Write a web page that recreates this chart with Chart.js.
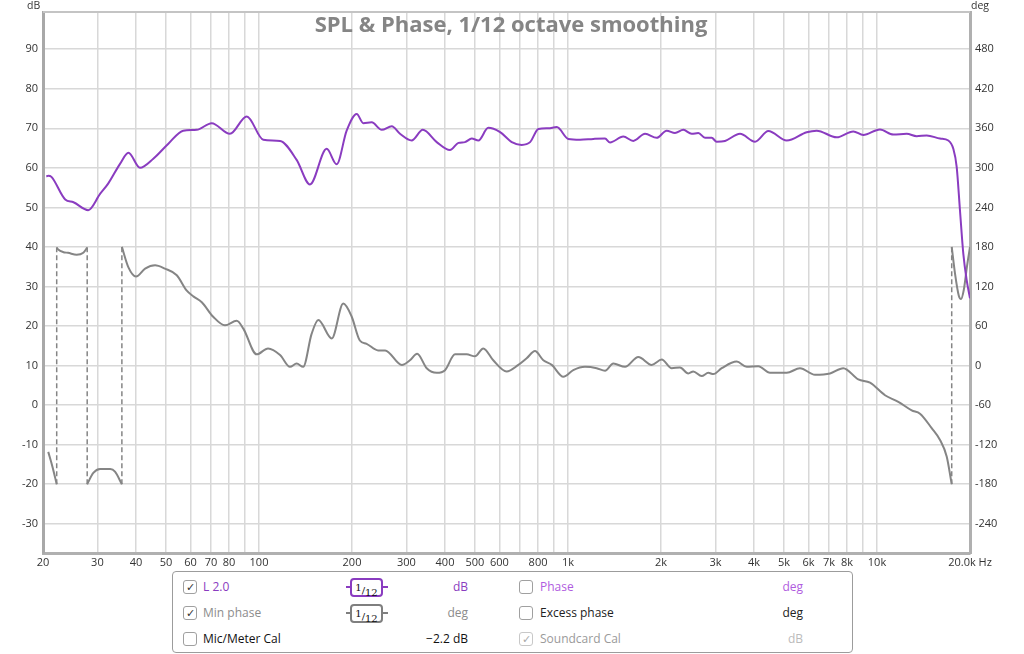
<!DOCTYPE html>
<html><head><meta charset="utf-8">
<script src="https://cdn.jsdelivr.net/npm/chart.js@4.4.1/dist/chart.umd.min.js"></script>
<style>
html,body{margin:0;padding:0;background:#fff;}
#wrap{position:relative;width:1024px;height:654px;overflow:hidden;font-family:"Open Sans",sans-serif;}
#c{position:absolute;left:0;top:0;}
.t{position:absolute;white-space:nowrap;line-height:14px;}
#title{position:absolute;left:511px;top:10px;transform:translateX(-50%);font-weight:bold;font-size:22px;line-height:26px;color:#858585;white-space:nowrap;}
#panel{position:absolute;left:172px;top:571px;width:679px;height:80px;border:1px solid #9c9c9c;border-radius:4px;background:#fff;font-size:12px;}
.cb{position:absolute;width:12px;height:12px;border:1px solid #a0a0a0;border-radius:3px;background:#fff;font-size:11px;line-height:12px;text-align:center;color:#333;}
.lb{position:absolute;white-space:nowrap;line-height:16px;}
.un{position:absolute;white-space:nowrap;line-height:16px;text-align:right;width:80px;}
.fr{position:absolute;width:29px;height:15px;border:2px solid #8a3cc0;border-radius:4px;font-family:"DejaVu Serif",serif;font-size:10px;line-height:15px;text-align:center;color:#111;}
.fr sup{font-size:10px;vertical-align:3px;}
.fr sub{font-size:10px;vertical-align:-2px;}
.tk{position:absolute;height:2px;width:5px;}
</style></head><body>
<div id="wrap">
<canvas id="c" width="1024" height="654"></canvas>
<div id="title">SPL &amp; Phase, 1/12 octave smoothing</div>
<div class="t" style="left:27px;top:-2px;font-size:10.5px;color:#333">dB</div>
<div class="t" style="left:971px;top:-2px;font-size:10.5px;color:#333">deg</div>
<div id="panel">
  <div class="cb" style="left:10px;top:8px">✓</div>
  <div class="lb" style="left:30px;top:7px;color:#8a3cc0">L 2.0</div>
  <div class="tk" style="left:173px;top:14px;background:#8a3cc0"></div>
  <div class="fr" style="left:177px;top:6px"><sup>1</sup>/<sub>12</sub></div>
  <div class="tk" style="left:210px;top:14px;background:#8a3cc0"></div>
  <div class="un" style="left:215px;top:7px;color:#8a3cc0">dB</div>
  <div class="cb" style="left:346px;top:8px"></div>
  <div class="lb" style="left:367px;top:7px;color:#b05ce0">Phase</div>
  <div class="un" style="left:550px;top:7px;color:#b05ce0">deg</div>

  <div class="cb" style="left:10px;top:34px">✓</div>
  <div class="lb" style="left:30px;top:33px;color:#8c8c8c">Min phase</div>
  <div class="tk" style="left:173px;top:40px;background:#7f7f7f"></div>
  <div class="fr" style="left:177px;top:32px;border-color:#7f7f7f"><sup>1</sup>/<sub>12</sub></div>
  <div class="tk" style="left:210px;top:40px;background:#7f7f7f"></div>
  <div class="un" style="left:215px;top:33px;color:#8c8c8c">deg</div>
  <div class="cb" style="left:346px;top:34px"></div>
  <div class="lb" style="left:367px;top:33px;color:#222">Excess phase</div>
  <div class="un" style="left:550px;top:33px;color:#222">deg</div>

  <div class="cb" style="left:10px;top:60px"></div>
  <div class="lb" style="left:30px;top:59px;color:#111">Mic/Meter Cal</div>
  <div class="un" style="left:215px;top:59px;color:#111">−2.2 dB</div>
  <div class="cb" style="left:346px;top:60px;border-color:#c8c8c8;color:#aaa">✓</div>
  <div class="lb" style="left:367px;top:59px;color:#9a9a9a">Soundcard Cal</div>
  <div class="un" style="left:550px;top:59px;color:#bbb">dB</div>
</div>
</div>
<script>
// ---- data ----
const splFreq = [20.5,20.8,21.3,23.6,25.1,28.0,30.6,32.5,35.5,37.8,41.2,45.5,50.9,56.9,62.9,70.3,80.5,91.3,103.3,117,132.4,146.2,165.6,178.4,192.2,207.2,217.6,231.6,249.6,269,286,312,339,376,415,442,464,488,513,552,603,658,708,754,802,864,920,1002,1094,1208,1318,1368,1510,1627,1776,1937,2086,2220,2362,2514,2642,2776,2918,3028,3222,3604,4030,4450,5104,5922,6380,7406,8382,9030,10226,11296,12482,13444,14486,15996,17016,17662,18114,18562,19026,19512,20000];
const splDb = [57.8,58.0,57.7,52.0,51.3,49.3,53.4,56.0,61.0,63.8,60.0,62.3,66.1,69.4,69.6,71.3,68.6,73.0,67.1,66.8,62.0,55.8,64.8,60.9,69.4,73.6,71.3,71.5,69.6,70.5,68.6,66.9,69.6,66.5,64.5,66.3,66.5,67.4,66.9,70.1,69.0,66.5,65.8,66.5,69.8,70.0,70.3,67.3,67.1,67.3,67.4,66.4,67.9,66.8,68.6,67.6,69.4,68.8,69.6,68.6,68.8,67.6,67.6,66.6,66.8,68.6,66.6,69.3,66.9,69.0,69.4,67.7,69.2,68.3,69.7,68.4,68.6,68.0,68.2,67.4,66.9,64.8,60.2,49.2,38.3,31.6,27.0];

// min phase (deg); null separates the wrapped pieces
const phaseFreq = [20.8,21.5,22.15,null,22.15,22.4,23.3,24.1,25.7,27.0,27.8,null,27.8,29.1,30.6,33.0,34.2,36.0,null,
 36.0,37.8,40.0,42.8,46.1,49.6,54.2,58.3,61.3,65.3,71.1,77.6,84.7,89.0,98.3,107,117,126,132.4,139,
 148,155.6,172,187.4,199.6,212,223,243,256,290,308,325,349,376,400,431,470,500,532,573,
 633,691,735,782,832,886,966,1040,1135,1238,1318,1402,1530,1689,1866,2011,2166,2304,2451,2544,
 2708,2846,2954,3144,3516,3788,4130,4506,5104,5634,6302,7048,7780,8700,9496,10616,11722,12952,13780,15032,
 15996,16812,17452,null,17452,17882,18400,18700,19100,19550,20000];
const phaseDeg = [-131,-155,-180,null,179,176,172,171,168,171,179,null,-180,-163,-157,-157,-161,-180,null,
 180,149,135,147,152,147,137,114,105,96,74,61,68,56,17,26,16,-2,3,-2,
 48,69,41,94,74,38,33,23,23,1,8,18,-4,-11,-7,17,17,14,26,8,
 -9,1,11,22,8,1,-17,-7,-2,-4,-8,3,-2,13,1,9,-4,-3,-12,-9,
 -16,-11,-13,-4,6,-2,-1,-11,-11,-4,-14,-12,-4,-21,-26,-45,-55,-68,-73,-95,
 -113,-138,-180,null,180,140,106,101,115,150,180];
const wrapFreq = [22.15,27.8,36.0,17452];
const wrapLimits = [-180,180];

const xTickValues = [20,30,40,50,60,70,80,90,100,200,300,400,500,600,700,800,900,1000,2000,3000,4000,5000,6000,7000,8000,9000,10000,20000];
const xTickLabels = ['20','30','40','50','60','70','80','','100','200','300','400','500','600','','800','','1k','2k','3k','4k','5k','6k','7k','8k','','10k','20.0k Hz'];
const dbTicks = [-30,-20,-10,0,10,20,30,40,50,60,70,80,90];
const degTicks = [-240,-180,-120,-60,0,60,120,180,240,300,360,420,480];
const dbMin = -37.4, dbMax = 99.4;

// ---- build ----
const splData = splFreq.map((f,i)=>({x:f,y:splDb[i]}));
let lastF = 20;
const phaseData = phaseFreq.map((f,i)=>{ if(f!==null) lastF=f; return {x:lastF,y:phaseDeg[i]}; });
const wrapData = [];
wrapFreq.forEach(f=>{ wrapData.push({x:f,y:wrapLimits[0]},{x:f,y:wrapLimits[1]},{x:f,y:null}); });

const FONT = {family:"'Open Sans', sans-serif", size:11};
const frameTop = {
  id:'frameTop',
  afterDraw(chart){
    const {ctx, chartArea:a} = chart;
    ctx.save();
    ctx.strokeStyle = '#c4c4c4'; ctx.lineWidth = 2;
    ctx.beginPath(); ctx.moveTo(a.left, a.top); ctx.lineTo(a.right, a.top); ctx.stroke();
    ctx.restore();
  }
};

new Chart(document.getElementById('c'), {
  type:'line',
  data:{datasets:[
    {label:'L 2.0', data:splData, yAxisID:'y', borderColor:'#8a3cc0', borderWidth:2, pointRadius:0, fill:false, cubicInterpolationMode:'monotone', spanGaps:false},
    {label:'Min phase', data:phaseData, yAxisID:'y1', borderColor:'#858585', borderWidth:2, pointRadius:0, fill:false, cubicInterpolationMode:'monotone', spanGaps:false},
    {label:'wrap', data:wrapData, yAxisID:'y1', borderColor:'#858585', borderWidth:1.5, borderDash:[5,3], pointRadius:0, fill:false, tension:0, spanGaps:false}
  ]},
  options:{
    responsive:false, animation:false, devicePixelRatio:1,
    layout:{padding:{top:12,left:0,right:0,bottom:0}},
    plugins:{legend:{display:false}, tooltip:{enabled:false}, title:{display:false}},
    scales:{
      x:{type:'logarithmic', position:'bottom', min:20, max:20000,
        afterBuildTicks:s=>{ s.ticks = xTickValues.map(v=>({value:v})); },
        afterFit:s=>{ s.height = 101; },
        ticks:{autoSkip:false, maxRotation:0, minRotation:0, padding:3, font:FONT, color:'#333',
          callback:(v,i)=>xTickLabels[i]},
        grid:{color:'#d8d8d8', lineWidth:1.5, drawTicks:false},
        border:{display:true, color:'#b0b0b0', width:3}},
      y:{type:'linear', position:'left', min:dbMin, max:dbMax,
        afterBuildTicks:s=>{ s.ticks = dbTicks.map(v=>({value:v})); },
        afterFit:s=>{ s.width = 43; },
        ticks:{padding:5, font:FONT, color:'#333'},
        grid:{color:'#d8d8d8', lineWidth:1.5, drawTicks:false},
        border:{display:true, color:'#a8a8a8', width:3}},
      y1:{type:'linear', position:'right', min:(dbMin-10)*6, max:(dbMax-10)*6,
        afterBuildTicks:s=>{ s.ticks = degTicks.map(v=>({value:v})); },
        afterFit:s=>{ s.width = 54; },
        ticks:{padding:5, font:FONT, color:'#333'},
        grid:{drawOnChartArea:false, drawTicks:false},
        border:{display:true, color:'#b0b0b0', width:3}}
    }
  },
  plugins:[frameTop]
});
</script>
</body></html>
